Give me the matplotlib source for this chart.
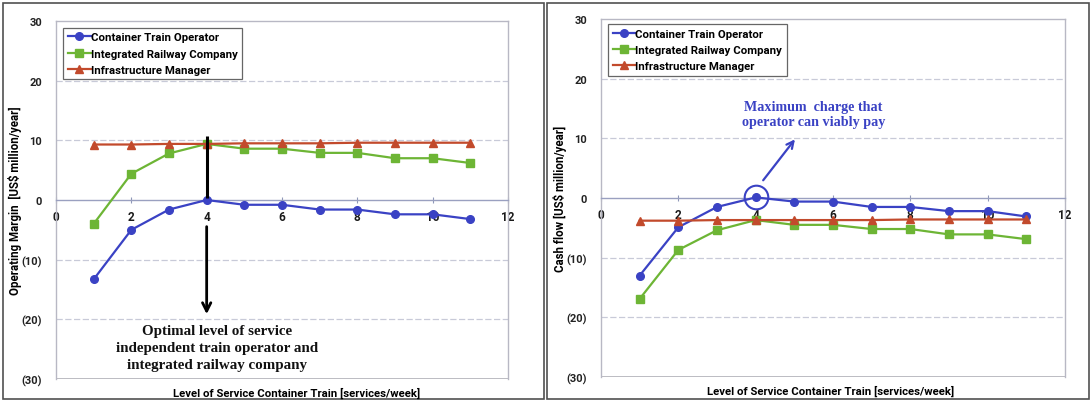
import numpy as np
import matplotlib
matplotlib.use("Agg")
import matplotlib.pyplot as plt
from matplotlib.patches import Rectangle

# ---- data ----
services = [1, 2, 3, 4, 5, 6, 7, 8, 9, 10, 11]
series_names = ["Container Train Operator", "Integrated Railway Company", "Infrastructure Manager"]

om_operator = [-13.3, -5.0, -1.6, 0.0, -0.8, -0.8, -1.6, -1.6, -2.4, -2.4, -3.2]
om_integrated = [-4.0, 4.4, 7.8, 9.4, 8.6, 8.6, 7.9, 7.9, 7.0, 7.0, 6.2]
om_infra = [9.3, 9.3, 9.4, 9.4, 9.5, 9.5, 9.5, 9.6, 9.6, 9.6, 9.6]

cf_operator = [-13.0, -4.9, -1.5, 0.1, -0.6, -0.6, -1.5, -1.5, -2.2, -2.2, -3.1]
cf_integrated = [-16.9, -8.7, -5.4, -3.7, -4.5, -4.5, -5.2, -5.2, -6.1, -6.1, -6.9]
cf_infra = [-3.8, -3.8, -3.7, -3.7, -3.7, -3.7, -3.7, -3.6, -3.6, -3.6, -3.6]

yticks = [-30, -20, -10, 0, 10, 20, 30]
ytick_labels = ["(30)", "(20)", "(10)", "0", "10", "20", "30"]
xticks = [0, 2, 4, 6, 8, 10, 12]
xtick_labels = ["0", "2", "4", "6", "8", "10", "12"]

xlabel = "Level of Service Container Train [services/week]"
ylabel_left = "Operating Margin  [US$ million/year]"
ylabel_right = "Cash flow [US$ million/year]"
note_left = "Optimal level of service\nindependent train operator and\nintegrated railway company"
note_right = "Maximum  charge that\noperator can viably pay"

colors = ["#3a42c4", "#6db535", "#c24a2c"]
markers = ["o", "s", "^"]

W, H = 1091, 402
fig = plt.figure(figsize=(W / 100, H / 100), dpi=100)
fig.patch.set_facecolor("white")

sans = ["Roboto", "DejaVu Sans"]
serif = ["Liberation Serif", "DejaVu Serif"]


def px_rect(x0, y0, x1, y1):
    return [x0 / W, 1 - y1 / H, (x1 - x0) / W, (y1 - y0) / H]


# panel frames
for (x0, y0, x1, y1) in [(3, 4, 544, 400), (547, 4, 1089, 400)]:
    fig.add_artist(Rectangle((x0 / W, 1 - y1 / H), (x1 - x0) / W, (y1 - y0) / H,
                             transform=fig.transFigure, fill=False,
                             edgecolor="#505050", lw=1.2))

ax1 = fig.add_axes(px_rect(56, 22, 508, 380))
ax2 = fig.add_axes(px_rect(601, 20, 1065, 378))


def style_axis(ax, series, ylabel, leg_anchor):
    # move the x axis to y = 0 first (this resets tick objects)
    ax.spines["bottom"].set_position(("data", 0))
    ax.spines["bottom"].set_color("#9aa0c0")
    ax.spines["bottom"].set_linewidth(1.0)
    for s in ["top", "left", "right"]:
        ax.spines[s].set_color("#b8b8c4")
        ax.spines[s].set_linewidth(1.0)
    for vals, name, c, m in zip(series, series_names, colors, markers):
        ax.plot(services, vals, color=c, marker=m, markersize=5.5, lw=1.6,
                label=name, zorder=3)
    ax.set_xlim(0, 12)
    ax.set_ylim(-30, 30)
    ax.set_yticks(yticks)
    ax.set_xticks(xticks)
    ax.tick_params(axis="y", length=0, pad=10, colors="#222222")
    ax.tick_params(axis="x", length=4, direction="inout", pad=5, color="#9098b8",
                   labelcolor="#1a1a1a")
    ax.set_yticklabels(ytick_labels, fontfamily=sans, fontweight="bold", fontsize=8)
    ax.set_xticklabels(xtick_labels, fontfamily=sans, fontweight="bold", fontsize=8.5)
    ax.axhline(-30, color="#b0b0b8", lw=1.2, zorder=1)
    for y in [10, 20, -10, -20]:
        ax.axhline(y, color="#c8cad8", lw=0.9, ls=(0, (5, 2)), zorder=1)
    ax.set_ylabel(ylabel, fontfamily=sans, fontweight="bold", fontsize=8.3, labelpad=0)
    leg = ax.legend(loc="upper left", bbox_to_anchor=leg_anchor, borderaxespad=0,
                    prop={"family": sans, "weight": "bold", "size": 8.2},
                    frameon=True, fancybox=False, handlelength=2.0, handletextpad=0.0,
                    labelspacing=0.55, borderpad=0.4)
    leg.get_frame().set_edgecolor("#404040")
    leg.get_frame().set_linewidth(0.9)


style_axis(ax1, [om_operator, om_integrated, om_infra], ylabel_left, (0.016, 0.981))
style_axis(ax2, [cf_operator, cf_integrated, cf_infra], ylabel_right, (0.015, 0.985))

# x labels
fig.text(297 / W, 1 - 393 / H, xlabel, ha="center", va="center",
         fontfamily=sans, fontweight="bold", fontsize=8.2)
fig.text(831 / W, 1 - 391 / H, xlabel, ha="center", va="center",
         fontfamily=sans, fontweight="bold", fontsize=8.2)

# left annotation: optimal level
i_opt = int(np.argmax(om_operator))
x_opt = services[i_opt]
ax1.plot([x_opt, x_opt], [10.7, 0.3], color="black", lw=2.2, zorder=5,
         solid_capstyle="butt")
ax1.annotate("", xy=(x_opt, -19.6), xytext=(x_opt, -4.0),
             arrowprops=dict(arrowstyle="->,head_length=0.6,head_width=0.3",
                             color="black", lw=2.0), zorder=5)
ax1.text(4.27, -24.8, note_left, ha="center", va="center", fontfamily=serif,
         fontweight="bold", fontsize=10.8, linespacing=1.4, color="#111111")

# right annotation: maximum charge
i_max = int(np.argmax(cf_operator))
x_max = services[i_max]
ax2.plot([x_max], [cf_operator[i_max]], marker="o", markersize=17, mfc="none",
         mec=colors[0], mew=1.5, zorder=6)
ax2.annotate("", xy=(5.06, 10.2), xytext=(4.15, 2.6),
             arrowprops=dict(arrowstyle="->,head_length=0.5,head_width=0.25",
                             color=colors[0], lw=1.6), zorder=6)
ax2.text(5.5, 14.1, note_right, ha="center", va="center", fontfamily=serif,
         fontweight="bold", fontsize=10.2, linespacing=1.2, color="#3a42c4")

fig.savefig("out.png", dpi=100, facecolor="white")
